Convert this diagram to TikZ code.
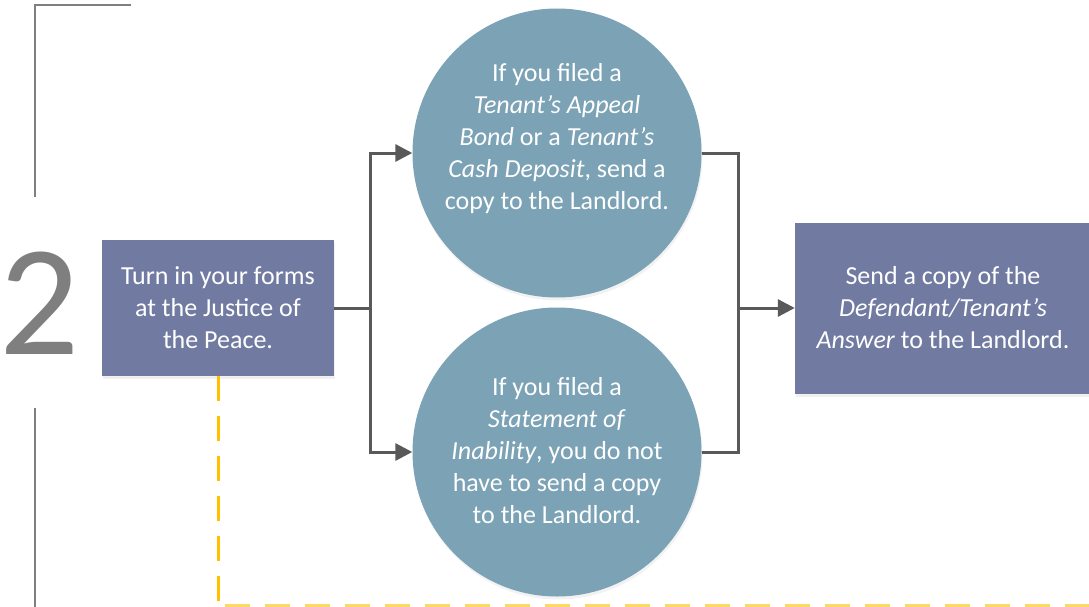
\documentclass[tikz,border=0pt]{standalone}
\usepackage{fontspec}
\setmainfont{Carlito}
\usetikzlibrary{arrows.meta,shadows}
\definecolor{boxblue}{HTML}{717AA1}
\definecolor{circblue}{HTML}{7BA2B5}
\definecolor{conngray}{HTML}{595959}
\definecolor{brgray}{HTML}{7F7F7F}
\definecolor{dashorange}{HTML}{FFC000}
\definecolor{dashyellow}{HTML}{FFD966}
\tikzset{
  stepbox/.style={draw=none, fill=boxblue, text=white, align=center, inner sep=0pt,
    font=\fontsize{26}{32}\selectfont,
    drop shadow={opacity=0.12, shadow xshift=1pt, shadow yshift=-3pt}},
  stepcirc/.style={circle, fill=circblue, minimum size=289pt, inner sep=0pt,
    drop shadow={opacity=0.10, shadow xshift=1pt, shadow yshift=-3pt}},
  circtext/.style={text=white, align=center, inner sep=0pt, font=\fontsize{26}{32}\selectfont},
  conn/.style={draw=conngray, line width=3pt},
  arr/.style={conn, -{Triangle[length=17pt,width=17pt]}},
  bracket/.style={draw=brgray, line width=2.2pt},
  ydash/.style={line width=3pt, dash pattern=on 25pt off 15pt},
}
\begin{document}
\begin{tikzpicture}[x=1pt,y=-1pt]
\useasboundingbox (0,0) rectangle (1089,607);
% bracket and step number
\draw[bracket] (131,5) -- (35,5) -- (35,197);
\draw[bracket] (35,408) -- (35,607);
\node[text=brgray, font=\fontsize{158}{158}\selectfont, inner sep=0pt] (num) at (40,303) {2};
% nodes
\node[stepbox, minimum width=232pt, minimum height=136pt] (lb) at (218,308) {Turn in your forms\\at the Justice of\\the Peace.};
\node[stepcirc] (c1) at (557,153) {};
\node[circtext] (t1) at (557,139) {If you filed a\\\textit{Tenant’s Appeal}\\\textit{Bond} or a \textit{Tenant’s}\\\textit{Cash Deposit}, send a\\copy to the Landlord.};
\node[stepcirc] (c2) at (557,452) {};
\node[circtext] (t2) at (557,451) {If you filed a\\\textit{Statement of}\\\textit{Inability}, you do not\\have to send a copy\\to the Landlord.};
\node[stepbox, minimum width=296pt, minimum height=171pt] (rb) at (943,308) {Send a copy of the\\\textit{Defendant/Tenant’s}\\\textit{Answer} to the Landlord.};
% connectors
\coordinate (s) at (370,308);
\coordinate (m) at (738,308);
\draw[conn] (lb.east) -- (s);
\draw[arr] (s) |- (c1.west);
\draw[arr] (s) |- (c2.west);
\draw[conn] (c1.east) -| (m);
\draw[conn] (c2.east) -| (m);
\draw[arr] (m) -- (rb.west);
% dashed path
\coordinate (corner) at (218,605);
\coordinate (dend) at (1089,605);
\draw[ydash, dashorange] (lb.south) -- (corner);
\draw[ydash, dashyellow, dash phase=-7pt] (corner) -- (dend);
\end{tikzpicture}
\end{document}
